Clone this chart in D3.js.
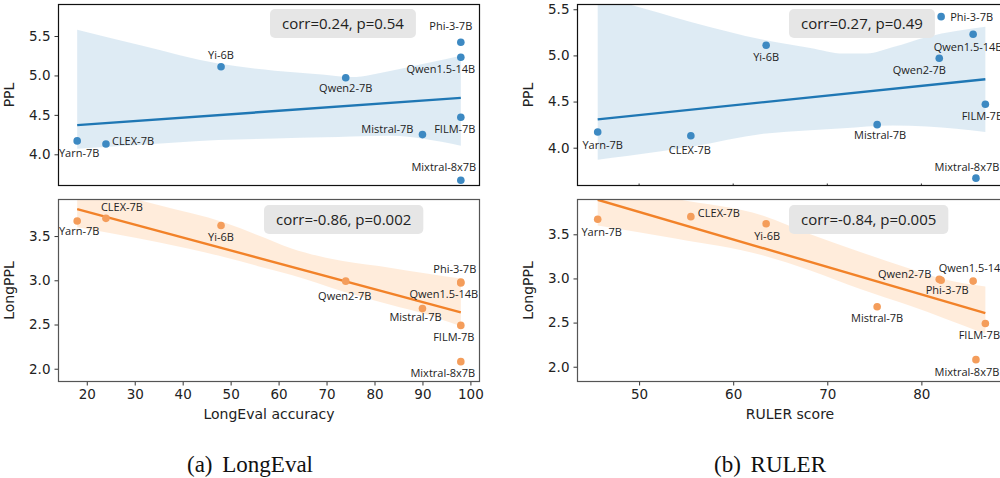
<!DOCTYPE html>
<html>
<head>
<meta charset="utf-8">
<script src="https://cdn.jsdelivr.net/npm/d3@7"></script>
<style>
  body { margin: 0; background: #fff; }
  svg { display: block; }
  .tick text { font-family: "DejaVu Sans"; font-size: 13.5px; fill: #222; }
  .lbl { font-family: "Open Sans"; font-size: 11px; fill: #222; }
  .corr { font-family: "Open Sans"; font-size: 15px; fill: #222; }
  .axlabel { font-family: "DejaVu Sans"; font-size: 14px; fill: #222; }
  .caption { font-family: "Liberation Serif"; font-size: 23px; fill: #111; word-spacing: 4px; }
</style>
</head>
<body>
<svg id="chart" width="1000" height="478"></svg>
<script>
// models and their scores
const models = ['Yarn-7B', 'CLEX-7B', 'Yi-6B', 'Qwen2-7B', 'Phi-3-7B', 'Qwen1.5-14B', 'FILM-7B', 'Mistral-7B', 'Mixtral-8x7B'];
const ppl = [4.17, 4.13, 5.11, 4.97, 5.42, 5.23, 4.47, 4.25, 3.67];
const longPpl = [3.67, 3.70, 3.62, 2.99, 2.98, 2.97, 2.49, 2.68, 2.08];
const longEvalAcc = [18, 24, 48, 74, 98, 98, 98, 90, 98];
const rulerScore = [45.6, 55.5, 63.5, 81.9, 82.1, 85.5, 86.8, 75.3, 85.8];

const corrLabels = ['corr=0.24, p=0.54', 'corr=-0.86, p=0.002', 'corr=0.27, p=0.49', 'corr=-0.84, p=0.005'];

// bootstrap confidence bands
const bandLongEvalPplX = [18, 31.4, 47.4, 59.2, 69.6, 75.2, 83.5, 90.5, 98];
const bandLongEvalPplHi = [5.58, 5.38, 5.15, 5.06, 5.01, 4.98, 5.06, 5.15, 5.25];
const bandLongEvalPplLo = [4.07, 4.12, 4.18, 4.20, 4.215, 4.225, 4.235, 4.195, 4.11];

const bandLongEvalLongX = [18, 34.9, 48.8, 55.7, 62.7, 73.1, 83.5, 90.5, 98];
const bandLongEvalLongHi = [4.09, 3.85, 3.65, 3.51, 3.36, 3.22, 3.14, 3.08, 3.02];
const bandLongEvalLongLo = [3.60, 3.43, 3.26, 3.16, 3.06, 2.88, 2.72, 2.62, 2.48];

const bandRulerPplX = [45.6, 48.7, 55.6, 63.2, 68.2, 71.7, 74.2, 77.0, 80.6, 86.8];
const bandRulerPplHi = [5.64, 5.56, 5.36, 5.17, 5.08, 5.02, 5.02, 5.09, 5.20, 5.31];
const bandRulerPplLo = [3.87, 3.91, 4.01, 4.15, 4.19, 4.21, 4.23, 4.24, 4.23, 4.17];

const bandRulerLongX = [45.6, 54.0, 63.2, 68.2, 73.5, 78.8, 82.4, 86.8];
const bandRulerLongHi = [4.07, 3.90, 3.71, 3.50, 3.30, 3.11, 2.99, 2.91];
const bandRulerLongLo = [3.60, 3.45, 3.26, 3.09, 2.88, 2.69, 2.55, 2.37];

const pplTicks = [4.0, 4.5, 5.0, 5.5];
const longPplTicks = [2.0, 2.5, 3.0, 3.5];
const longEvalTicks = [20, 30, 40, 50, 60, 70, 80, 90, 100];
const rulerTicks = [50, 60, 70, 80];

const BLUE = { dot: '#3d89c2', line: '#1f77b4', band: '#1f77b4' };
const ORANGE = { dot: '#f49d5b', line: '#f28229', band: '#ff7f0e' };

// label placement per panel: [anchor, dx, dy]
const labelsA1 = [['middle', 2, 12], ['start', 6, -3], ['middle', 0, -12], ['middle', 0, 10], ['middle', -10, -16],
  ['middle', -20, 12], ['middle', -6, 12], ['end', -9, -5], ['middle', -17, -13]];
const labelsA2 = [['middle', 2, 10], ['middle', 16, -11], ['middle', 0, 12], ['middle', -1, 15], ['middle', -6, -13],
  ['middle', -17, 11], ['middle', -7, 12], ['middle', -7, 9], ['middle', -18, 11]];
const labelsB1 = [['middle', 5, 13], ['middle', -1, 14], ['middle', 0, 12], ['middle', -20, 12], ['start', 9, 1],
  ['middle', -5, 13], ['middle', -3, 12], ['middle', 3, 11], ['middle', -9, -11]];
const labelsB2 = [['middle', 4, 13], ['start', 7, -4], ['middle', 1, 12], ['end', -8, -5], ['middle', 6, 10],
  ['middle', 0, -13], ['middle', -6, 12], ['middle', 0, 11], ['middle', -9, 12]];

const panels = [
  { id: 'a1', xs: longEvalAcc, ys: ppl, xDomain: [14, 102], yDomain: [3.598, 5.906], x0: 58, x1: 480, y0: 4, y1: 186,
    col: BLUE, band: [bandLongEvalPplX, bandLongEvalPplLo, bandLongEvalPplHi], yTicks: pplTicks, xTicks: null,
    ylabel: 'PPL', frame: '#111', corr: corrLabels[0], box: [270, 9], labels: labelsA1 },
  { id: 'a2', xs: longEvalAcc, ys: longPpl, xDomain: [14, 102], yDomain: [1.85, 3.919], x0: 58, x1: 480, y0: 199, y1: 382,
    col: ORANGE, band: [bandLongEvalLongX, bandLongEvalLongLo, bandLongEvalLongHi], yTicks: longPplTicks, xTicks: longEvalTicks,
    ylabel: 'LongPPL', frame: '#555', corr: corrLabels[1], box: [264, 205], labels: labelsA2, xlabel: 'LongEval accuracy' },
  { id: 'b1', xs: rulerScore, ys: ppl, xDomain: [43.4, 89.1], yDomain: [3.585, 5.557], x0: 577, x1: 1007, y0: 4, y1: 186,
    col: BLUE, band: [bandRulerPplX, bandRulerPplLo, bandRulerPplHi], yTicks: pplTicks, xTicks: null, innerTicks: rulerTicks,
    ylabel: 'PPL', frame: '#111', corr: corrLabels[2], box: [789, 9], labels: labelsB1 },
  { id: 'b2', xs: rulerScore, ys: longPpl, xDomain: [43.4, 89.1], yDomain: [1.827, 3.9], x0: 577, x1: 1007, y0: 199, y1: 382,
    col: ORANGE, band: [bandRulerLongX, bandRulerLongLo, bandRulerLongHi], yTicks: longPplTicks, xTicks: rulerTicks,
    ylabel: 'LongPPL', frame: '#555', corr: corrLabels[3], box: [789, 205], labels: labelsB2, xlabel: 'RULER score' },
];

const svg = d3.select('#chart');

function fit(xs, ys) {
  const mx = d3.mean(xs);
  const my = d3.mean(ys);
  const sxy = d3.sum(xs, (v, i) => (v - mx) * (ys[i] - my));
  const sxx = d3.sum(xs, (v) => (v - mx) * (v - mx));
  const b = sxy / sxx;
  return (v) => my + b * (v - mx);
}

function drawPanel(p) {
  const x = d3.scaleLinear().domain(p.xDomain).range([p.x0, p.x1]);
  const y = d3.scaleLinear().domain(p.yDomain).range([p.y1, p.y0]);
  const g = svg.append('g');

  g.append('clipPath').attr('id', `clip-${p.id}`)
    .append('rect')
    .attr('x', p.x0).attr('y', p.y0)
    .attr('width', p.x1 - p.x0).attr('height', p.y1 - p.y0);

  const plot = g.append('g').attr('clip-path', `url(#clip-${p.id})`);

  const [bx, blo, bhi] = p.band;
  const area = d3.area()
    .x((d, i) => x(bx[i]))
    .y0((d, i) => y(blo[i]))
    .y1((d, i) => y(bhi[i]))
    .curve(d3.curveMonotoneX);
  plot.append('path')
    .datum(bx)
    .attr('d', area)
    .attr('fill', p.col.band)
    .attr('fill-opacity', 0.15);

  const line = fit(p.xs, p.ys);
  const ext = d3.extent(p.xs);
  plot.append('line')
    .attr('x1', x(ext[0])).attr('y1', y(line(ext[0])))
    .attr('x2', x(ext[1])).attr('y2', y(line(ext[1])))
    .attr('stroke', p.col.line)
    .attr('stroke-width', 2.4);

  plot.selectAll('circle')
    .data(models)
    .enter()
    .append('circle')
    .attr('cx', (d, i) => x(p.xs[i]))
    .attr('cy', (d, i) => y(p.ys[i]))
    .attr('r', 3.8)
    .attr('fill', p.col.dot);

  g.selectAll('text.lbl')
    .data(models)
    .enter()
    .append('text')
    .attr('class', 'lbl')
    .attr('x', (d, i) => x(p.xs[i]) + p.labels[i][1])
    .attr('y', (d, i) => y(p.ys[i]) + p.labels[i][2])
    .attr('dy', '0.35em')
    .attr('text-anchor', (d, i) => p.labels[i][0])
    .text((d) => d);

  // correlation box
  const box = g.append('g');
  const txt = box.append('text')
    .attr('class', 'corr')
    .attr('x', p.box[0] + 12)
    .attr('y', p.box[1] + 14.5)
    .attr('dy', '0.35em')
    .text(p.corr);
  const tw = txt.node().getComputedTextLength();
  box.insert('rect', 'text')
    .attr('x', p.box[0]).attr('y', p.box[1])
    .attr('width', tw + 24).attr('height', 29)
    .attr('rx', 5)
    .attr('fill', '#e6e6e6');

  // axes
  const yAxis = g.append('g')
    .attr('transform', `translate(${p.x0},0)`)
    .call(d3.axisLeft(y).tickValues(p.yTicks).tickFormat(d3.format('.1f')).tickSize(3.5).tickPadding(4));
  yAxis.select('.domain').remove();
  yAxis.selectAll('.tick line').attr('stroke', '#333');

  if (p.xTicks) {
    const xAxis = g.append('g')
      .attr('transform', `translate(0,${p.y1})`)
      .call(d3.axisBottom(x).tickValues(p.xTicks).tickFormat(d3.format('d')).tickSize(3.5).tickPadding(4));
    xAxis.select('.domain').remove();
    xAxis.selectAll('.tick line').attr('stroke', '#333');
  }
  if (p.innerTicks) {
    g.selectAll('line.itick')
      .data(p.innerTicks)
      .enter()
      .append('line')
      .attr('class', 'itick')
      .attr('x1', (d) => x(d)).attr('x2', (d) => x(d))
      .attr('y1', p.y1).attr('y2', p.y1 - 2.5)
      .attr('stroke', '#333');
  }

  g.append('rect')
    .attr('x', p.x0 + 0.5).attr('y', p.y0 + 0.5)
    .attr('width', p.x1 - p.x0 - 1).attr('height', p.y1 - p.y0 - 1)
    .attr('fill', 'none')
    .attr('stroke', p.frame)
    .attr('stroke-width', 1.2);

  const ly = (p.y0 + p.y1) / 2;
  const lx = p.x0 - 44;
  g.append('text')
    .attr('class', 'axlabel')
    .attr('transform', `translate(${lx},${ly}) rotate(-90)`)
    .attr('text-anchor', 'middle')
    .text(p.ylabel);

  if (p.xlabel) {
    g.append('text')
      .attr('class', 'axlabel')
      .attr('x', (p.x0 + p.x1) / 2 + (p.id === 'b2' ? -2 : 0))
      .attr('y', 419)
      .attr('text-anchor', 'middle')
      .text(p.xlabel);
  }
}

panels.forEach(drawPanel);

svg.append('text').attr('class', 'caption')
  .attr('x', 250).attr('y', 472).attr('text-anchor', 'middle')
  .text('(a) LongEval');
svg.append('text').attr('class', 'caption')
  .attr('x', 770).attr('y', 472).attr('text-anchor', 'middle')
  .text('(b) RULER');
</script>
</body>
</html>
